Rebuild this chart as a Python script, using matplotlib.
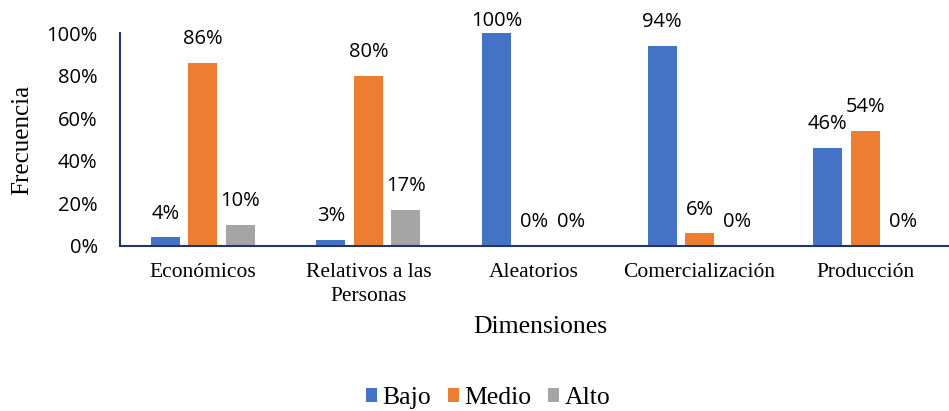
import numpy as np
import matplotlib.pyplot as plt
from matplotlib.font_manager import FontProperties

categorias = ["Económicos", "Relativos a las\nPersonas", "Aleatorios", "Comercialización", "Producción"]
bajo = [4, 3, 100, 94, 46]
medio = [86, 80, 0, 6, 54]
alto = [10, 17, 0, 0, 0]
series = {"Bajo": bajo, "Medio": medio, "Alto": alto}
colores = ["#4472C4", "#ED7D31", "#A5A5A5"]
yticks = [0, 20, 40, 60, 80, 100]

serif = "Liberation Serif"
sans = "Open Sans"

fig = plt.figure(figsize=(9.49, 4.11), dpi=100)
ax = fig.add_axes([0.1264, 0.4015, 0.8726, 0.5182])

x = np.arange(len(categorias))
ancho = 0.175
paso = 0.226
for i, (nombre, vals) in enumerate(series.items()):
    pos = x + (i - 1) * paso
    ax.bar(pos, vals, ancho, color=colores[i], label=nombre)
    for p, v in zip(pos, vals):
        dy = 9 if v >= 100 else 17
        ax.annotate(f"{v}%", (p, v), xytext=(0, dy), textcoords="offset points",
                    ha="center", va="center", fontsize=14.5, family=sans,
                    annotation_clip=False)

ax.set_xlim(-0.5, len(categorias) - 0.5)
ax.set_ylim(0, 100)
ax.set_yticks(yticks)
ax.set_yticklabels([f"{t}%" for t in yticks], fontsize=14.5, family=sans)
ax.set_xticks(x)
ax.set_xticklabels(categorias, fontsize=15.5, family=serif, linespacing=1.4, va="top")
ax.tick_params(axis="y", length=0, pad=16)
ax.tick_params(axis="x", length=0, pad=12)

for s in ["top", "right"]:
    ax.spines[s].set_visible(False)
for s in ["left", "bottom"]:
    ax.spines[s].set_color("#1F3864")
    ax.spines[s].set_linewidth(1.5)

fig.text(0.569, 1 - 327 / 411, "Dimensiones", ha="center", va="center",
         fontsize=18.5, family=serif)
fig.text(0.023, 1 - 140 / 411, "Frecuencia", ha="center", va="center", rotation=90,
         fontsize=18, family=serif)

fig.legend(loc="center", bbox_to_anchor=(488 / 949, 1 - 398 / 411), ncol=3, frameon=False,
           prop=FontProperties(family=serif, size=18.5), handlelength=0.43, handleheight=0.43,
           handletextpad=0.2, columnspacing=0.66)

fig.savefig("out.png", dpi=100)
